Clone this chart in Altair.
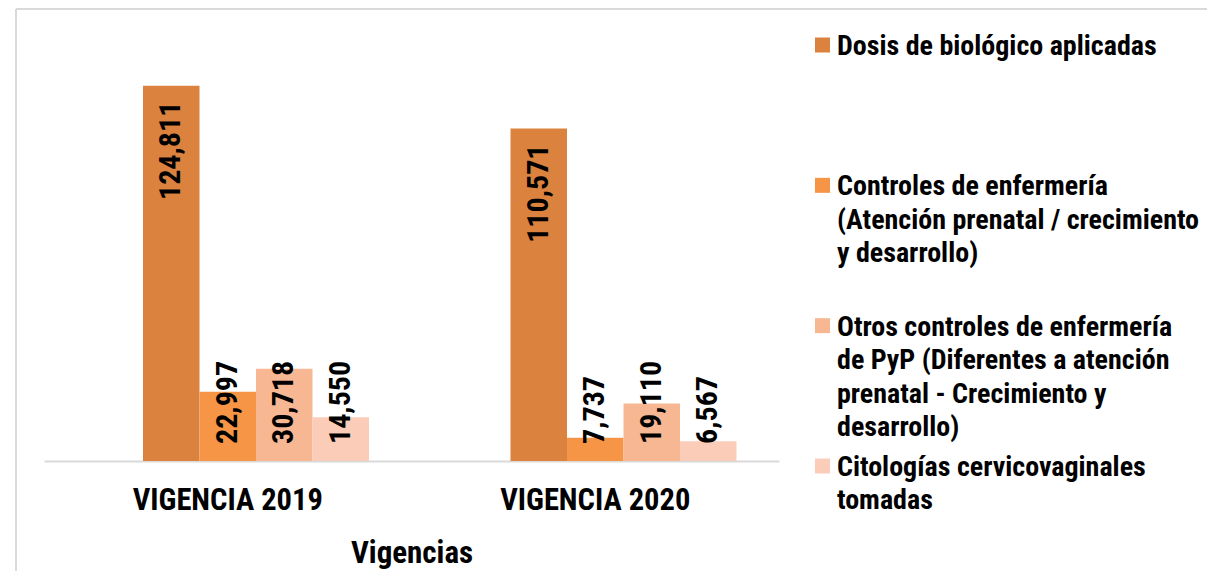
import altair as alt
import pandas as pd

FONT = "Roboto Condensed"

vigencias = ["VIGENCIA 2019", "VIGENCIA 2020"]
series = [
    "Dosis de biológico aplicadas",
    "Controles de enfermería (Atención prenatal / crecimiento y desarrollo)",
    "Otros controles de enfermería de PyP (Diferentes a atención prenatal - Crecimiento y desarrollo)",
    "Citologías cervicovaginales tomadas",
]
legend_labels = [
    "Dosis de biológico aplicadas",
    "Controles de enfermería\n(Atención prenatal / crecimiento\ny desarrollo)",
    "Otros controles de enfermería\nde PyP (Diferentes a atención\nprenatal - Crecimiento y\ndesarrollo)",
    "Citologías cervicovaginales\ntomadas",
]
values_2019 = [124811, 22997, 30718, 14550]
values_2020 = [110571, 7737, 19110, 6567]
colors = ["#DB823E", "#F69546", "#F8B793", "#FBCDB9"]

rows = []
for v, vals in zip(vigencias, [values_2019, values_2020]):
    for s, val in zip(series, vals):
        rows.append({"vigencia": v, "serie": s, "valor": val})
df = pd.DataFrame(rows)
legend_df = pd.DataFrame({"serie": series, "etiqueta": legend_labels})

x = alt.X(
    "vigencia:N", sort=vigencias,
    scale=alt.Scale(paddingInner=0, paddingOuter=0),
    axis=alt.Axis(
        title="Vigencias", labelAngle=0, ticks=False,
        domainColor="#D9D9D9", domainWidth=2,
        labelFont=FONT, labelFontSize=30.5, labelFontWeight="bold", labelColor="black",
        labelPadding=24, labelLimit=400,
        titleFont=FONT, titleFontSize=31, titleFontWeight="bold", titleColor="black",
        titlePadding=23,
    ),
)
xo = alt.XOffset("serie:N", sort=series,
                 scale=alt.Scale(paddingInner=0, paddingOuter=0, range=[99, 325]))
y = alt.Y("valor:Q", scale=alt.Scale(domain=[0, 140000]), axis=None)
color = alt.Color("serie:N", sort=series,
                  scale=alt.Scale(domain=series, range=colors), legend=None)

base = alt.Chart(df)
bars = base.mark_bar().encode(x=x, xOffset=xo, y=y, color=color)

txt_kw = dict(angle=270, baseline="middle", fontSize=30, fontWeight="bold",
              font=FONT, color="black")
big_labels = base.mark_text(align="right", dx=-16, **txt_kw).encode(
    x=x, xOffset=xo, y=y, text=alt.Text("valor:Q", format=",d")
).transform_filter("datum.valor > 50000")
small_labels = base.mark_text(align="left", dx=17, **txt_kw).encode(
    x=x, xOffset=xo, y=alt.Y("zero:Q", scale=alt.Scale(domain=[0, 140000]), axis=None),
    text=alt.Text("valor:Q", format=",d")
).transform_filter("datum.valor <= 50000").transform_calculate(zero="0")

ly = alt.Y("serie:N", sort=series, axis=None,
           scale=alt.Scale(type="point", domain=series, range=[5, 426], padding=0))
leg_sq = alt.Chart(legend_df).mark_square(size=225, opacity=1).encode(
    x=alt.value(778.5), y=ly, color=color)
leg_txt = alt.Chart(legend_df).mark_text(
    align="left", baseline="top", dy=-12.1, lineBreak="\n", lineHeight=33.5,
    fontSize=28, fontWeight="bold", font=FONT, color="black"
).encode(x=alt.value(793), y=ly, text="etiqueta:N")

border_top = alt.Chart(legend_df).mark_rule(color="#D9D9D9", strokeWidth=2).encode(
    x=alt.value(-28), x2=alt.value(1190), y=alt.value(-31))
border_left = alt.Chart(legend_df).mark_rule(color="#D9D9D9", strokeWidth=2).encode(
    x=alt.value(-28), y=alt.value(-31), y2=alt.value(560))

main = alt.layer(bars, big_labels, small_labels)
legend = alt.layer(leg_sq, leg_txt)

chart = alt.layer(main, legend, border_top, border_left).resolve_scale(
    y="independent"
).properties(
    width=735, height=421,
    background="white",
    autosize=alt.AutoSizeParams(type="none"),
    padding={"left": 36, "top": 32, "right": 428, "bottom": 110},
).configure_view(stroke=None)

chart.save("out.html", embed_options={"renderer": "svg", "actions": False})
